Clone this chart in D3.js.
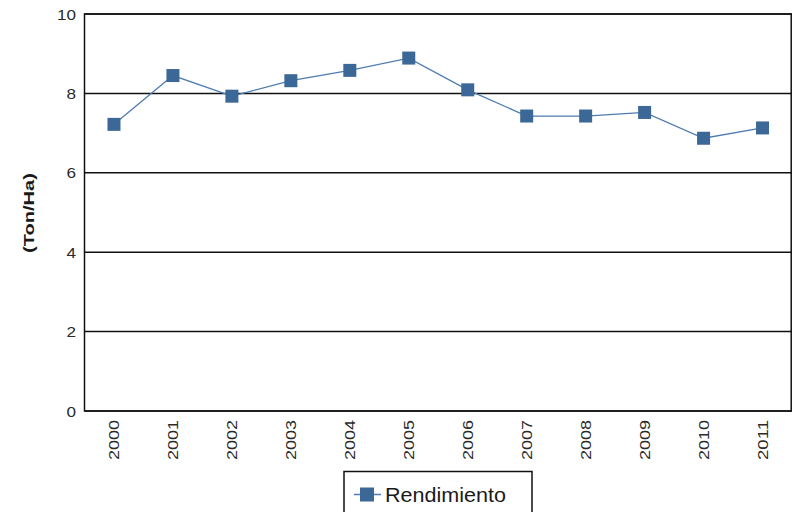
<!DOCTYPE html>
<html><head><meta charset="utf-8">
<script src="https://cdn.jsdelivr.net/npm/d3@7"></script>
<style>body{margin:0;background:#fff}svg{display:block}</style>
</head><body>
<svg id="c" width="792" height="512"></svg>
<script>
const years = ["2000","2001","2002","2003","2004","2005","2006","2007","2008","2009","2010","2011"];
const rendimiento = [7.22, 8.45, 7.93, 8.32, 8.58, 8.89, 8.09, 7.43, 7.43, 7.52, 6.87, 7.13];
const yTicks = [0, 2, 4, 6, 8, 10];
const seriesName = "Rendimiento";
const axisTitle = "(Ton/Ha)";

const svg = d3.select("#c");
const L = 84.5, R = 792, T = 14, B = 411;
const x = d3.scaleBand().domain(years).range([L, R]);
const y = d3.scaleLinear().domain([0, 10]).range([B, T]);
const font = "'Liberation Sans', Arial, sans-serif";

// gridlines
svg.append("g").selectAll("line").data(yTicks).join("line")
  .attr("x1", L).attr("x2", R).attr("y1", d => y(d)).attr("y2", d => y(d))
  .attr("stroke", "#111").attr("stroke-width", 1.5);
// frame
svg.append("rect").attr("x", L).attr("y", T).attr("width", R - L - 0.8).attr("height", B - T)
  .attr("fill", "none").attr("stroke", "#111").attr("stroke-width", 1.5);

// y labels
svg.append("g").selectAll("text").data(yTicks).join("text")
  .attr("x", 76).attr("y", d => y(d) + 5.5)
  .attr("text-anchor", "end").attr("font-family", font).attr("font-size", 15)
  .attr("fill", "#2a2a2a")
  .attr("textLength", d => String(d).length * 9.5).attr("lengthAdjust", "spacingAndGlyphs")
  .text(d => d);

// x labels rotated
svg.append("g").selectAll("text").data(years).join("text")
  .attr("transform", d => `translate(${x(d) + x.bandwidth() / 2 + 5.5},420) rotate(-90)`)
  .attr("text-anchor", "end").attr("font-family", font).attr("font-size", 15)
  .attr("fill", "#2a2a2a")
  .attr("textLength", 40).attr("lengthAdjust", "spacingAndGlyphs")
  .text(d => d);

// axis title
svg.append("text")
  .attr("transform", `translate(34,213) rotate(-90)`)
  .attr("text-anchor", "middle").attr("font-family", font).attr("font-size", 15)
  .attr("font-weight", "bold").attr("fill", "#1a1a1a")
  .attr("textLength", 80).attr("lengthAdjust", "spacingAndGlyphs")
  .text(axisTitle);

const cx = d => x(d) + x.bandwidth() / 2;
const lineColor = "#4f7cb0", markColor = "#3c6898";
const line = d3.line().x((d, i) => cx(years[i])).y(d => y(d));
svg.append("path").datum(rendimiento).attr("d", line)
  .attr("fill", "none").attr("stroke", lineColor).attr("stroke-width", 1.3);
svg.append("g").selectAll("rect").data(rendimiento).join("rect")
  .attr("x", (d, i) => cx(years[i]) - 6.5).attr("y", d => y(d) - 6.5)
  .attr("width", 13).attr("height", 13).attr("fill", markColor);

// legend
const lg = svg.append("g");
lg.append("rect").attr("x", 344).attr("y", 471.5).attr("width", 188).attr("height", 60)
  .attr("fill", "#fff").attr("stroke", "#111").attr("stroke-width", 1.5);
lg.append("line").attr("x1", 354).attr("x2", 381).attr("y1", 494.5).attr("y2", 494.5)
  .attr("stroke", lineColor).attr("stroke-width", 1.5);
lg.append("rect").attr("x", 360).attr("y", 487.5).attr("width", 14).attr("height", 14).attr("fill", markColor);
lg.append("text").attr("x", 385).attr("y", 502).attr("font-family", font).attr("font-size", 20)
  .attr("fill", "#1a1a1a").attr("textLength", 121).attr("lengthAdjust", "spacingAndGlyphs")
  .text(seriesName);
</script>
</body></html>
